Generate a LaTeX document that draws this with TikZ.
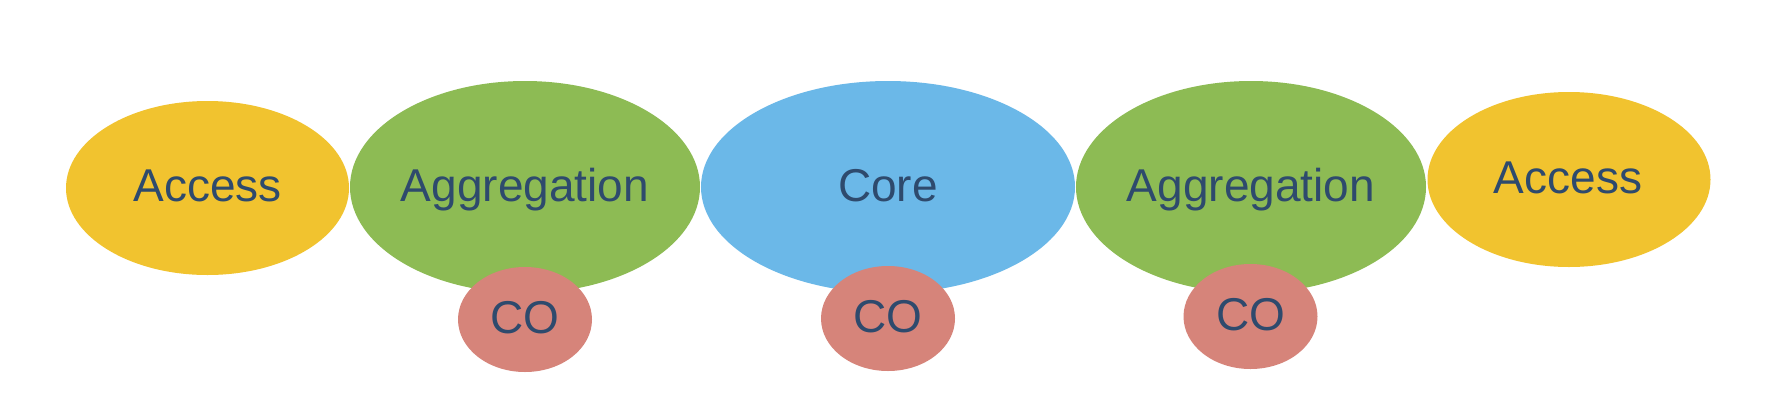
\documentclass[tikz,border=0pt]{standalone}
\usepackage{fontspec}
\setmainfont{Liberation Sans}
\usetikzlibrary{shapes.geometric}
\definecolor{accY}{HTML}{F1C32F}
\definecolor{aggG}{HTML}{8DBB54}
\definecolor{coreB}{HTML}{6BB8E8}
\definecolor{coR}{HTML}{D6847A}
\definecolor{txtC}{HTML}{2E4A6D}
\tikzset{
  blob/.style={ellipse, draw=none, inner sep=0pt, outer sep=0pt},
  lbl/.style={anchor=base, inner sep=0pt, text=txtC, font=\fontsize{46}{55}\selectfont}
}
\begin{document}
\begin{tikzpicture}[x=1pt,y=-1pt]
\useasboundingbox[fill=white] (0,0) rectangle (1767,410);
% big ellipses
\node[blob, fill=coreB, minimum width=374pt, minimum height=212pt] (core) at (888,187) {};
\node[blob, fill=aggG, minimum width=350pt, minimum height=212pt] (agg1) at (525,187) {};
\node[blob, fill=aggG, minimum width=350pt, minimum height=212pt] (agg2) at (1251,187) {};
\node[blob, fill=accY, minimum width=283pt, minimum height=174pt] (acc1) at (207.5,188) {};
\node[blob, fill=accY, minimum width=283pt, minimum height=175pt] (acc2) at (1569,179.5) {};
% CO ellipses
\node[blob, fill=coR, minimum width=134pt, minimum height=105pt] (co1) at (525,319.5) {};
\node[blob, fill=coR, minimum width=134pt, minimum height=105pt] (co2) at (888,318.5) {};
\node[blob, fill=coR, minimum width=134pt, minimum height=105pt] (co3) at (1250.5,316.5) {};
% labels
\node[lbl] (acc1t) at (207.5,201) {Access};
\node[lbl] (agg1t) at (525,201) {Aggregation};
\node[lbl] (coret) at (888,201) {Core};
\node[lbl] (agg2t) at (1251,201) {Aggregation};
\node[lbl] (acc2t) at (1568,193) {Access};
\node[lbl] (co1t) at (525,333) {CO};
\node[lbl] (co2t) at (888,332) {CO};
\node[lbl] (co3t) at (1250.5,330) {CO};
\end{tikzpicture}
\end{document}
